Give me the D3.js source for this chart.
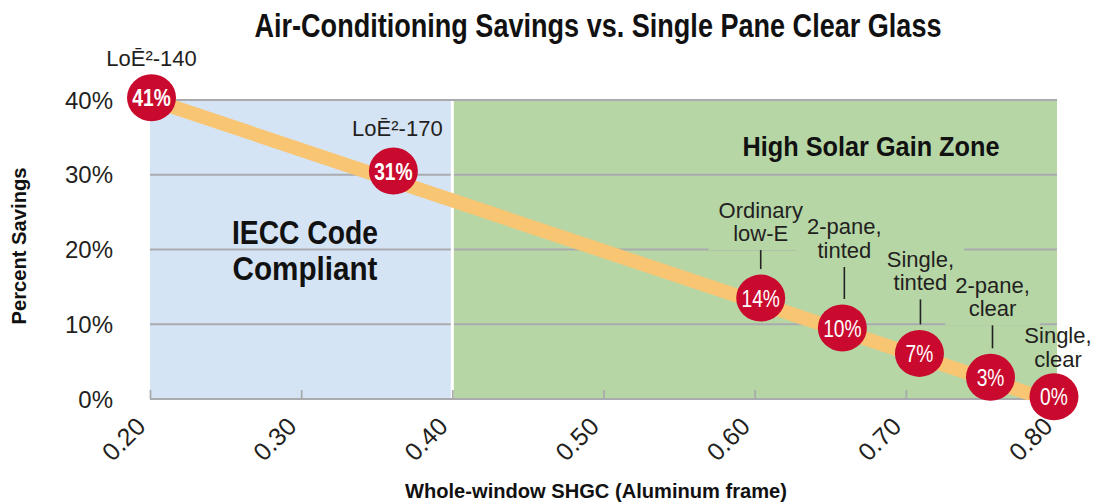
<!DOCTYPE html>
<html><head><meta charset="utf-8">
<script src="https://cdn.jsdelivr.net/npm/d3@7"></script>
<style>body{margin:0;background:#fff}</style>
</head><body>
<svg id="chart" width="1096" height="503"></svg>
<script>
// ---------- data ----------
const xTicks = [0.20, 0.30, 0.40, 0.50, 0.60, 0.70, 0.80];
const yTicks = [0, 10, 20, 30, 40];
const zoneNames = [["IECC Code", "Compliant"], ["High Solar Gain Zone"]];
const zoneStart = [0.20, 0.40];
const zoneEnd = [0.40, 0.80];
const productLines = [["LoĒ²-140"], ["LoĒ²-170"], ["Ordinary", "low-E"], ["2-pane,", "tinted"], ["Single,", "tinted"], ["2-pane,", "clear"], ["Single,", "clear"]];
const shgc = [0.201, 0.361, 0.604, 0.658, 0.709, 0.756, 0.798];
const savingsLabel = [41, 31, 14, 10, 7, 3, 0];       // printed value
const savingsPlotted = [40.3, 30.5, 13.5, 9.5, 6.1, 2.9, 0.3]; // where the disc sits on the chart
const trendShgc = [0.20, 0.80];
const trendSavings = [40.1, -0.5];

// ---------- layout ----------
const W = 1096, H = 503;
const m = {left: 150, right: 1057, top: 100, bottom: 399};
const labelLift = [32, 35, 57, 70, 63, 61, 30];   // px from disc centre to last label baseline
const labelShift = [0, 4, 0, 2, 1, 2, 4];
const lineH = 23.5;
const colBlue = "#d5e4f4", colGreen = "#b6d6a6", colOrange = "#f8c572", colRed = "#c90a2e", colGrid = "#a9abae";
const zoneColors = [colBlue, colGreen];
const txt = "#231f20";
const regFont = "'Liberation Sans', Arial, sans-serif";
const boldFont = "'Liberation Sans', Arial, sans-serif";

const svg = d3.select("#chart");
const x = d3.scaleLinear().domain([0.20, 0.80]).range([m.left, m.right]);
const y = d3.scaleLinear().domain([0, 40]).range([m.bottom, m.top]);

// zones
svg.append("g").selectAll("rect").data(zoneStart).join("rect")
  .attr("x", (d) => x(d)).attr("y", y(40))
  .attr("width", (d, i) => x(zoneEnd[i]) - x(d)).attr("height", y(0) - y(40))
  .attr("fill", (d, i) => zoneColors[i]);

// grid
svg.append("g").selectAll("line").data(yTicks.filter(v => v > 0)).join("line")
  .attr("x1", x(0.20)).attr("x2", x(0.80)).attr("y1", d => y(d)).attr("y2", d => y(d))
  .attr("stroke", colGrid).attr("stroke-width", 1.8);

// layer for label backgrounds (drawn above grid, below everything else)
const gBg = svg.append("g");

// divider
svg.append("line").attr("x1", x(zoneEnd[0])).attr("x2", x(zoneEnd[0]))
  .attr("y1", y(40) + 1).attr("y2", y(0) + 1).attr("stroke", "#fff").attr("stroke-width", 3);

// x axis (ticks point up into the plot)
const xAxis = d3.axisTop(x).tickValues(xTicks).tickSize(9).tickFormat("");
const gx = svg.append("g").attr("transform", `translate(0,${y(0)})`).call(xAxis);
gx.select(".domain").attr("stroke", colGrid).attr("stroke-width", 2).attr("d", `M${x(0.2)},0H${x(0.8)}`);
gx.selectAll(".tick line").attr("stroke", colGrid).attr("stroke-width", 1.8);
svg.append("g").selectAll("text").data(xTicks).join("text")
  .attr("transform", d => `translate(${x(d) - 3},${y(0) + 29}) rotate(-45)`)
  .attr("text-anchor", "end").attr("font-family", regFont).attr("font-size", 25).attr("fill", txt)
  .text(d => d3.format(".2f")(d));

// y axis labels
svg.append("g").selectAll("text").data(yTicks).join("text")
  .attr("x", 113).attr("y", d => y(d)).attr("dy", "0.36em")
  .attr("text-anchor", "end").attr("font-family", regFont).attr("font-size", 24).attr("fill", txt)
  .text(d => d + "%");

// zone titles
const iecc = svg.append("text").attr("text-anchor", "middle").attr("font-family", boldFont)
  .attr("font-weight", "bold").attr("font-size", 34).attr("fill", "#111");
iecc.append("tspan").attr("x", 305).attr("y", 244).attr("textLength", 146).attr("lengthAdjust", "spacingAndGlyphs").text(zoneNames[0][0]);
iecc.append("tspan").attr("x", 305).attr("y", 280).attr("textLength", 145).attr("lengthAdjust", "spacingAndGlyphs").text(zoneNames[0][1]);
svg.append("text").attr("x", 871).attr("y", 156).attr("text-anchor", "middle").attr("font-family", boldFont)
  .attr("font-weight", "bold").attr("font-size", 28).attr("fill", "#111")
  .attr("textLength", 257).attr("lengthAdjust", "spacingAndGlyphs").text(zoneNames[1][0]);

// product labels
const products = shgc.map((s, i) => ({s, i, lines: productLines[i], lab: savingsLabel[i], pos: savingsPlotted[i]}));
const labels = svg.append("g").selectAll("g").data(products).join("g");
const labText = labels.append("text").attr("text-anchor", "middle").attr("font-family", regFont)
  .attr("font-size", 22).attr("fill", txt);
labText.each(function (d) {
  const t = d3.select(this);
  const baseY = y(d.pos) - labelLift[d.i];
  d.lines.forEach((ln, k) => {
    t.append("tspan").attr("x", x(d.s) + labelShift[d.i])
      .attr("y", baseY - (d.lines.length - 1 - k) * lineH).text(ln);
  });
});
// background patches behind labels sitting fully inside the green zone (they break the grid lines)
labText.each(function (d) {
  const bb = this.getBBox();
  if (bb.x - 10 > x(zoneStart[1]) && bb.x + bb.width + 10 < x(zoneEnd[1]) && bb.y > y(40)) {
    gBg.append("rect")
      .attr("x", bb.x - 10).attr("y", bb.y - 2).attr("width", bb.width + 20).attr("height", bb.height + 6)
      .attr("fill", zoneColors[1]);
  }
});
// leaders
labels.filter(d => labelLift[d.i] > 45).append("line")
  .attr("x1", d => x(d.s) + labelShift[d.i]).attr("x2", d => x(d.s) + labelShift[d.i])
  .attr("y1", d => y(d.pos) - labelLift[d.i] + 9).attr("y2", d => y(d.pos) - 29)
  .attr("stroke", "#222").attr("stroke-width", 1.6);

// trend band, clipped at the baseline
svg.append("clipPath").attr("id", "clipBase").append("rect")
  .attr("x", 0).attr("y", 0).attr("width", W).attr("height", y(0) + 1);
svg.append("path").attr("clip-path", "url(#clipBase)")
  .datum(trendShgc.map((s, i) => [s, trendSavings[i]]))
  .attr("d", d3.line().x(d => x(d[0])).y(d => y(d[1])))
  .attr("fill", "none").attr("stroke", colOrange).attr("stroke-width", 14);

// discs
const discs = svg.append("g").selectAll("g").data(products).join("g")
  .attr("transform", d => `translate(${x(d.s)},${y(d.pos)})`);
discs.append("ellipse").attr("rx", 24.5).attr("ry", 23.5).attr("fill", colRed);
discs.append("text").attr("text-anchor", "middle").attr("dy", "0.36em")
  .attr("transform", "scale(0.8,1)")
  .attr("font-family", regFont).attr("font-size", 24)
  .attr("font-weight", d => d.lab > 30 ? "bold" : "normal").attr("fill", "#fff")
  .text(d => d.lab + "%");

// titles
svg.append("text").attr("x", 598).attr("y", 37).attr("text-anchor", "middle")
  .attr("font-family", boldFont).attr("font-weight", "bold").attr("font-size", 33).attr("fill", "#111")
  .attr("textLength", 687).attr("lengthAdjust", "spacingAndGlyphs")
  .text("Air-Conditioning Savings vs. Single Pane Clear Glass");
svg.append("text").attr("x", 596).attr("y", 498).attr("text-anchor", "middle")
  .attr("font-family", boldFont).attr("font-weight", "bold").attr("font-size", 20).attr("fill", "#111")
  .attr("textLength", 382).attr("lengthAdjust", "spacingAndGlyphs")
  .text("Whole-window SHGC (Aluminum frame)");
svg.append("text").attr("transform", "translate(26,246) rotate(-90)").attr("text-anchor", "middle")
  .attr("font-family", boldFont).attr("font-weight", "bold").attr("font-size", 21).attr("fill", "#111")
  .attr("textLength", 157).attr("lengthAdjust", "spacingAndGlyphs")
  .text("Percent Savings");
</script>
</body></html>
